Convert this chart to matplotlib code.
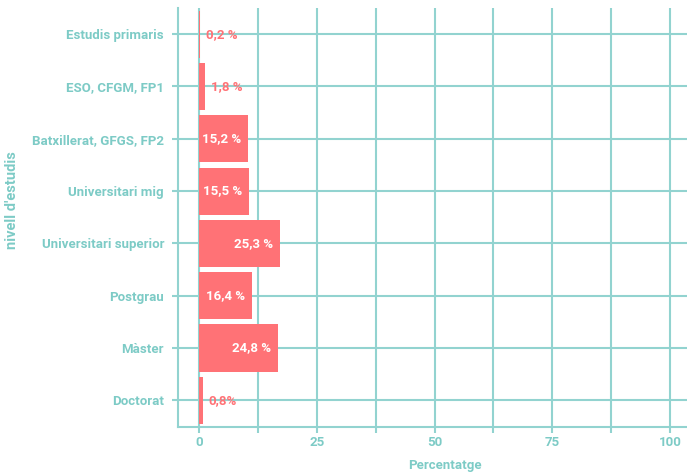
import matplotlib.pyplot as plt
from matplotlib.ticker import MultipleLocator
import numpy as np

categories = ["Estudis primaris", "ESO, CFGM, FP1", "Batxillerat, GFGS, FP2",
              "Universitari mig", "Universitari superior", "Postgrau",
              "Màster", "Doctorat"]
# bar lengths as drawn (x scale 0-100)
bar_values = [0.2, 1.3, 10.4, 10.6, 17.2, 11.2, 16.8, 0.8]
# printed labels
value_labels = ["0,2 %", "1,8 %", "15,2 %", "15,5 %", "25,3 %", "16,4 %", "24,8 %", "0,8%"]
inside = [False, False, True, True, True, True, True, False]

teal = "#7dcbc6"
grid_teal = "#92d3d0"
red = "#ff7276"
font = ["Roboto", "DejaVu Sans"]

plt.rcParams['font.family'] = font
plt.rcParams['font.weight'] = 'bold'
fs = 9.5

fig = plt.figure(figsize=(6.87, 4.74), dpi=100)
ax = fig.add_axes([178 / 687, 1 - 426.5 / 474, 1 - 178 / 687, (426.5 - 8) / 474])

y = np.arange(len(categories))
ax.barh(y, bar_values, height=0.9, color=red, zorder=3)

for i, (v, lab) in enumerate(zip(bar_values, value_labels)):
    if inside[i]:
        ax.annotate(lab, (v, i), xytext=(-5, 0), textcoords="offset points",
                    ha="right", va="center", color="white", fontsize=fs,
                    fontweight="bold", zorder=4)
    else:
        ax.annotate(lab, (v, i), xytext=(4, 0), textcoords="offset points",
                    ha="left", va="center", color=red, fontsize=fs,
                    fontweight="bold", zorder=4)

ax.set_xlim(-4.5, 103.6)
ax.set_ylim(len(categories) - 0.5, -0.5)
ax.set_yticks(y)
ax.set_yticklabels(categories)
ax.xaxis.set_major_locator(MultipleLocator(25))
ax.xaxis.set_minor_locator(MultipleLocator(12.5))

ax.grid(True, which="both", axis="x", color=grid_teal, linewidth=1.5, zorder=0)
ax.grid(True, which="major", axis="y", color=grid_teal, linewidth=1.5, zorder=0)
ax.set_axisbelow(True)

for s in ["top", "right"]:
    ax.spines[s].set_visible(False)
for s in ["left", "bottom"]:
    ax.spines[s].set_color(grid_teal)
    ax.spines[s].set_linewidth(1.5)

ax.tick_params(axis="both", which="both", color=grid_teal, width=1.5, length=4,
               labelcolor=teal, labelsize=fs)
ax.tick_params(axis="x", which="major", pad=3)
ax.tick_params(axis="y", which="major", pad=6)

ax.set_xlabel("Percentatge", color=teal, fontsize=fs, fontweight="bold")
ax.set_ylabel("nivell d'estudis", color=teal, fontsize=10.5, fontweight="bold")
ax.xaxis.set_label_coords((445 - 178) / 509, -(466 - 426.5) / 418.5)
ax.yaxis.set_label_coords(-(178 - 12) / 509, (426.5 - 200) / 418.5)
ax.xaxis.label.set_va("center")
ax.yaxis.label.set_va("center")

plt.savefig("out.png", dpi=100)
plt.close()
